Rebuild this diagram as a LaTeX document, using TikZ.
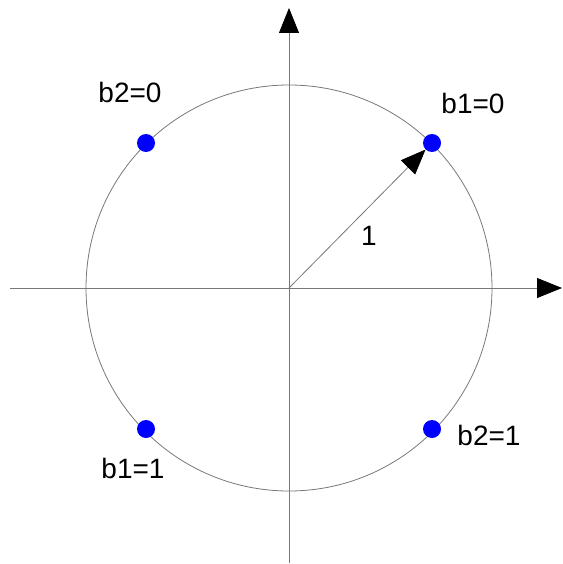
\documentclass[tikz,border=0pt]{standalone}
\usepackage{fontspec}
\setmainfont{Liberation Sans}
\usetikzlibrary{arrows.meta,positioning,calc}
\definecolor{axisgray}{RGB}{120,120,120}
\definecolor{dotblue}{RGB}{0,0,255}

\begin{document}
\begin{tikzpicture}[x=1pt,y=-1pt,>={Triangle[length=25pt,width=20pt,color=black]},
  dot/.style={circle,fill=dotblue,inner sep=0pt,minimum size=18pt},
  lbl/.style={font=\fontsize{28}{28}\selectfont,inner sep=0pt}]

\useasboundingbox (0,0) rectangle (562,564);

\coordinate (o) at (289,288);
\coordinate (xl) at (10,288);
\coordinate (xr) at (562,288);
\coordinate (yb) at (289,563);
\coordinate (yt) at (289,8);

\draw[axisgray,line width=0.8pt] (o) circle (203);

\draw[->,axisgray,line width=0.8pt] (xl)--(xr);
\draw[->,axisgray,line width=0.8pt] (yb)--(yt);

\node[dot] (p1) at (432,143) {};
\node[dot] (p2) at (146,143) {};
\node[dot] (p3) at (146,429) {};
\node[dot] (p4) at (432,429) {};

\draw[->,axisgray,line width=0.8pt] (o)--(p1);

\node[lbl] (l1) at (473,103) {b1=0};
\node[lbl] (l2) at (130,92) {b2=0};
\node[lbl] (l3) at (133,468) {b1=1};
\node[lbl] (l4) at (489,435) {b2=1};
\node[lbl] (r) at (369,236) {1};

\end{tikzpicture}
\end{document}
